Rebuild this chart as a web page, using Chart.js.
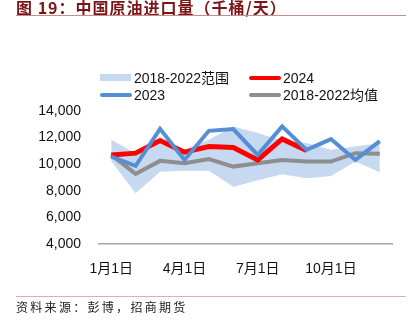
<!DOCTYPE html>
<html>
<head>
<meta charset="utf-8">
<script src="https://cdn.jsdelivr.net/npm/chart.js@4"></script>
<style>
  html, body { margin: 0; padding: 0; background: #fff; }
  #wrap { position: relative; width: 416px; height: 330px; overflow: hidden; }
  #chart { position: absolute; left: 0; top: 0; }
  .title { position: absolute; left: 16px; top: -5px; font-family: "Noto Sans CJK SC", sans-serif; font-weight: bold; font-size: 16px; color: #7d1518; white-space: nowrap; letter-spacing: 1px; }
  .rule { position: absolute; left: 16px; width: 390px; height: 1px; }
  .source { position: absolute; left: 16px; top: 298px; font-family: "Noto Sans CJK SC", sans-serif; font-size: 12px; color: #222; letter-spacing: 2.3px; white-space: nowrap; }
  .legend-item { position: absolute; font-family: "Liberation Sans", "Noto Sans CJK SC", sans-serif; font-size: 14px; color: #111; white-space: nowrap; line-height: 16px; }
  .legend-item .sw { position: absolute; left: 0; }
  .legend-item span.txt { position: absolute; left: 34px; top: 0; }
</style>
</head>
<body>
<div id="wrap">
  <canvas id="chart" width="416" height="330"></canvas>
  <div class="title">图 19：中国原油进口量（千桶/天）</div>
  <div class="rule" style="top:15px;background:#c98a8a;"></div>
  <div class="rule" style="top:296px;background:#dcb0b0;"></div>
  <div class="source">资料来源：彭博，招商期货</div>
  <div id="legend"></div>
</div>
<script>
// Months of the year (category axis)
const months = ["1月1日", "2月1日", "3月1日", "4月1日", "5月1日", "6月1日",
                "7月1日", "8月1日", "9月1日", "10月1日", "11月1日", "12月1日"];

// Crude oil imports, thousand barrels per day
const imports2024 = [10700, 10830, 11780, 10900, 11330, 11250, 10320, 11900, 11030];
const imports2023 = [10570, 9870, 12660, 10320, 12510, 12640, 10700, 12840, 11080, 11890, 10320, 11740];
const avg2018to2022 = [10700, 9270, 10250, 10075, 10380, 9820, 10075, 10320, 10200, 10200, 10830, 10780];
const min2018to2022 = [10250, 7810, 9440, 9500, 9500, 8310, 8800, 9250, 8950, 9120, 10200, 9400];
const max2018to2022 = [11830, 10830, 11900, 11080, 11830, 12840, 12340, 11760, 11590, 11080, 11330, 11590];

// Y axis ticks
const yTicks = [4000, 6000, 8000, 10000, 12000, 14000];
// Months that carry a visible label on the x axis
const labelledMonths = [0, 3, 6, 9];

const BAND = "#c6d9f0";
const RED = "#ff0000";
const BLUE = "#558ed5";
const GREY = "#8e8e8e";
const FONT = "'Liberation Sans', 'Noto Sans CJK SC', sans-serif";

const chart = new Chart(document.getElementById("chart"), {
  type: "line",
  data: {
    labels: months,
    datasets: [
      { label: "2023", data: imports2023, borderColor: BLUE, borderWidth: 4, pointRadius: 0, tension: 0, order: 0, fill: false },
      { label: "2024", data: imports2024, borderColor: RED, borderWidth: 5, pointRadius: 0, tension: 0, order: 1, fill: false },
      { label: "2018-2022均值", data: avg2018to2022, borderColor: GREY, borderWidth: 4, pointRadius: 0, tension: 0, order: 2, fill: false },
      { label: "min", data: min2018to2022, borderWidth: 0, borderColor: "rgba(0,0,0,0)", pointRadius: 0, tension: 0, order: 4, fill: false },
      { label: "2018-2022范围", data: max2018to2022, borderWidth: 0, borderColor: "rgba(0,0,0,0)", backgroundColor: BAND, pointRadius: 0, tension: 0, order: 3, fill: "-1" }
    ]
  },
  options: {
    responsive: false,
    animation: false,
    devicePixelRatio: 1,
    layout: { padding: { left: 0, right: 24, top: 111, bottom: 0 } },
    plugins: { legend: { display: false }, tooltip: { enabled: false } },
    scales: {
      x: {
        offset: true,
        grid: { display: false, drawTicks: false },
        border: { display: true, color: "#a6a6a6", width: 1.5 },
        ticks: {
          autoSkip: false, maxRotation: 0, padding: 17, color: "#111",
          font: { family: FONT, size: 14 },
          callback: (v, i) => labelledMonths.includes(i) ? months[i] : ""
        },
        afterFit: s => { s.height = 86; }
      },
      y: {
        min: yTicks[0], max: yTicks[yTicks.length - 1],
        grid: { display: false, drawTicks: false },
        border: { display: false },
        afterBuildTicks: s => { s.ticks = yTicks.map(v => ({ value: v })); },
        ticks: {
          padding: 18, color: "#111",
          font: { family: FONT, size: 14 },
          callback: v => v.toLocaleString("en-US")
        },
        afterFit: s => { s.width = 99; }
      }
    }
  }
});

// Two-column legend built from the dataset styles
const legendItems = [
  { ds: 4, x: 100, y: 70, kind: "band" },
  { ds: 1, x: 249, y: 70, kind: "line" },
  { ds: 0, x: 100, y: 87, kind: "line" },
  { ds: 2, x: 249, y: 87, kind: "line" }
];
const legend = document.getElementById("legend");
legendItems.forEach(it => {
  const ds = chart.data.datasets[it.ds];
  const el = document.createElement("div");
  el.className = "legend-item";
  el.style.left = it.x + "px";
  el.style.top = it.y + "px";
  const sw = document.createElement("div");
  sw.className = "sw";
  if (it.kind === "band") {
    sw.style.cssText = `left:0;top:4px;width:31px;height:7px;background:${ds.backgroundColor};`;
  } else {
    sw.style.cssText = `left:0;top:6px;width:32px;height:4px;border-radius:2px;background:${ds.borderColor};`;
  }
  const txt = document.createElement("span");
  txt.className = "txt";
  txt.textContent = ds.label;
  el.appendChild(sw);
  el.appendChild(txt);
  legend.appendChild(el);
});
</script>
</body>
</html>
